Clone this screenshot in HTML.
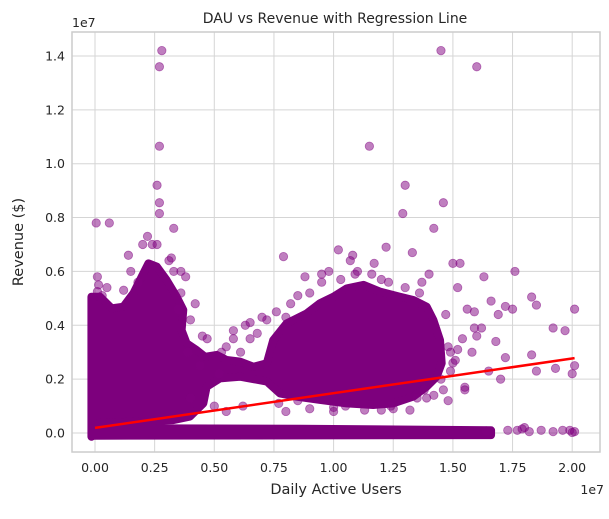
<!DOCTYPE html>
<html><head><meta charset="utf-8">
<style>
html,body{margin:0;padding:0;background:#fff;}
svg text{font-family:"DejaVu Sans","Liberation Sans",sans-serif;fill:#262626;}
</style></head>
<body>
<svg id="chart" width="609" height="514" viewBox="0 0 609 514" xmlns="http://www.w3.org/2000/svg">
<rect width="609" height="514" fill="#fff"/>
<text x="335" y="23" font-size="14" text-anchor="middle">DAU vs Revenue with Regression Line</text>
<g id="grid"></g>
<g id="marks"></g>
<g id="axes"></g>
</svg>
<script>
// data in units of 1e6
const xTicks=[0,2.5,5,7.5,10,12.5,15,17.5,20];
const xTickLabels=["0.00","0.25","0.50","0.75","1.00","1.25","1.50","1.75","2.00"];
const yTicks=[0,2,4,6,8,10,12,14];
const yTickLabels=["0.0","0.2","0.4","0.6","0.8","1.0","1.2","1.4"];
const denseMassX=[-0.15,-0.15,0.21,0.70,1.19,1.61,1.96,2.24,2.59,3.00,3.42,3.70,3.63,3.84,4.26,4.61,5.10,5.52,6.08,6.64,7.20,7.47,8.03,8.87,9.43,9.99,10.55,11.25,11.94,12.78,13.34,13.90,14.18,14.46,14.53,14.32,13.90,13.34,12.50,11.66,10.55,9.43,8.45,7.75,7.20,6.08,5.24,4.68,4.54,3.98,3.28,-0.07];
const denseMassY=[-0.14,5.06,5.06,4.63,4.69,5.19,5.81,6.30,6.18,5.68,5.06,4.57,3.82,3.33,3.08,2.83,2.90,2.71,2.65,2.46,2.59,3.45,4.07,4.44,4.82,5.06,5.37,5.50,5.25,5.06,4.94,4.69,4.20,3.45,2.59,2.09,1.72,1.35,1.10,1.04,1.10,1.23,1.35,1.47,1.91,2.09,2.03,1.72,1.10,0.61,0.48,0.36];
const bandX=[-0.1,8.6,16.6,16.6,-0.1];
const bandY=[0.18,0.16,0.1,-0.08,-0.1];
const pointX=[2.8,2.7,2.7,2.6,2.7,2.7,0.05,0.6,3.3,14.5,16.0,11.5,13.0,14.6,12.9,14.2,17.6,7.9,15.0,15.3,16.3,18.3,18.5,17.2,17.5,19.2,19.7,20.1,18.3,19.3,20.0,20.1,18.5,17.0,16.5,15.8,16.8,17.2,15.5,14.5,14.8,19.9,18.0,20.1,13.3,12.2,10.8,10.2,11.7,16.6,15.9,16.9,9.0,9.5,9.8,8.5,8.0,7.2,6.5,5.8,6.3,3.6,3.8,1.5,1.2,4.2,4.5,4.4,3.9,5.2,6.2,8.0,10.5,12.5,13.5,15.5,0.15,0.1,
6.5,7.0,5.8,5.5,6.8,8.8,10.7,9.5,11.0,12.0,13.7,14.0,15.2,15.6,15.9,16.0,15.2,16.2,15.0,14.9,14.2,13.2,11.3,9.0,7.7,5.0,5.5,4.0,1.4,2.0,2.4,3.1,3.3,3.6,3.5,0.1,2.2,17.3,17.7,18.2,18.7,19.2,19.6,20.0,16.4,17.9,14.8,15.4,10.0,12.4,13.8,
10.3,10.9,11.6,12.3,13.0,13.6,14.7,14.9,8.2,7.6,6.1,5.3,4.7,4.0,3.2,1.8,2.6,0.5,0.3,12.0,10.0,8.5,15.1,14.6,13.9];
const pointY=[14.2,13.6,10.65,9.2,8.55,8.15,7.8,7.8,7.6,14.2,13.6,10.65,9.2,8.55,8.15,7.6,6.0,6.55,6.3,6.3,5.8,5.05,4.75,4.7,4.6,3.9,3.8,4.6,2.9,2.4,2.2,2.5,2.3,2.0,2.3,3.0,3.4,2.8,1.7,2.0,1.2,0.1,0.2,0.05,6.7,6.9,6.6,6.8,6.3,4.9,4.5,4.4,5.2,5.6,6.0,5.1,4.3,4.2,3.5,3.8,4.0,6.0,5.8,6.0,5.3,4.8,3.6,2.5,3.0,2.2,1.0,0.8,1.0,0.9,1.3,1.6,5.5,5.25,
4.1,4.3,3.5,3.2,3.7,5.8,6.4,5.9,6.0,5.7,5.6,5.9,5.4,4.6,3.9,3.6,3.1,3.9,2.6,2.3,1.4,0.85,0.85,0.9,1.1,1.0,0.8,1.3,6.6,7.0,7.0,6.4,6.0,5.2,4.6,5.8,7.3,0.1,0.1,0.05,0.1,0.05,0.1,0.02,0.08,0.15,3.2,3.5,0.8,1.0,1.6,
5.7,5.9,5.9,5.6,5.4,5.2,4.4,3.0,4.8,4.5,3.0,3.0,3.5,4.2,6.5,5.6,7.0,5.4,5.1,0.85,0.95,1.2,2.7,1.6,1.3];
const regX=[0,20.1];
const regY=[0.19,2.78];

const L=72,R=600,T=32,B=452;
const sx=v=>95+v*23.86;
const sy=v=>433-v*26.93;
const NS="http://www.w3.org/2000/svg";
function mk(tag,attrs,parent){const e=document.createElementNS(NS,tag);for(const k in attrs)e.setAttribute(k,attrs[k]);parent.appendChild(e);return e;}
const grid=document.getElementById('grid'),marks=document.getElementById('marks'),axes=document.getElementById('axes');

xTicks.forEach((t,i)=>{
  const g=mk('line',{x1:sx(t),x2:sx(t),y1:T,y2:B,stroke:'#d5d5d5','stroke-width':1},grid);
  
  
  const tx=mk('text',{x:sx(t),y:B+20,'font-size':12.5,'text-anchor':'middle'},axes);
  tx.textContent=xTickLabels[i];
  
  
});
yTicks.forEach((t,i)=>{
  const g=mk('line',{x1:L,x2:R,y1:sy(t),y2:sy(t),stroke:'#d5d5d5','stroke-width':1},grid);
  
  
  const tx=mk('text',{x:L-7,y:sy(t)+4.5,'font-size':12.5,'text-anchor':'end'},axes);
  tx.textContent=yTickLabels[i];
  
  
});
const fr=mk('rect',{x:L,y:T,width:R-L,height:B-T,fill:'none',stroke:'#cccccc','stroke-width':1.5},axes);



function poly(xs,ys,name){
  const pts=xs.map((x,i)=>sx(x)+','+sy(ys[i])).join(' ');
  const p=mk('polygon',{points:pts,fill:'#7d007d',stroke:'#7d007d','stroke-width':8,'stroke-linejoin':'round'},marks);
  
  
}
poly(denseMassX,denseMassY,'dense-point-mass');
poly(bandX,bandY,'low-revenue-band');
pointX.forEach((x,i)=>{
  const c=mk('circle',{cx:sx(x),cy:sy(pointY[i]),r:4.2,fill:'#800080','fill-opacity':0.5,stroke:'#800080','stroke-opacity':0.5,'stroke-width':0.8},marks);
  
  
});
const rl=mk('line',{x1:sx(regX[0]),y1:sy(regY[0]),x2:sx(regX[1]),y2:sy(regY[1]),stroke:'#ff0000','stroke-width':2.5},marks);



const o1=mk('text',{x:L,y:27,'font-size':12.5},axes);o1.textContent='1e7';


const o2=mk('text',{x:R+4,y:B+42,'font-size':12.5,'text-anchor':'end'},axes);o2.textContent='1e7';


const xl=mk('text',{x:336,y:B+42,'font-size':14.5,'text-anchor':'middle'},axes);xl.textContent='Daily Active Users';


const yl=mk('text',{x:0,y:0,'font-size':14.5,'text-anchor':'middle',transform:'translate(23,242) rotate(-90)'},axes);yl.textContent='Revenue ($)';


</script>
</body></html>
